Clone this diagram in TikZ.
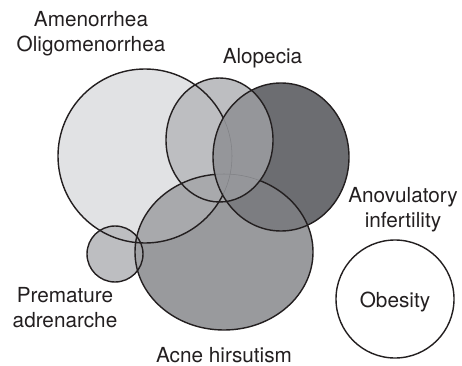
\documentclass[tikz,border=0pt]{standalone}
\usepackage{fontspec}
\setmainfont{TeX Gyre Heros}

\definecolor{edge}{HTML}{231F20}
\definecolor{cAmen}{HTML}{E1E2E4}
\definecolor{cAlo}{HTML}{BDBEC1}
\definecolor{cAcne}{HTML}{999A9D}
\definecolor{cAcneAmen}{HTML}{A8A9AC}
\definecolor{cPremAcne}{HTML}{A2A3A6}
\definecolor{cAnov}{HTML}{6C6D71}
\definecolor{cAcneAnov}{HTML}{7C7D81}
\definecolor{cLens}{HTML}{95969A}
\definecolor{hair}{HTML}{808185}

% circle paths (pixel units)
\newcommand\pAmen{(145,209) circle [radius=87]}
\newcommand\pAlo{(219.5,225) ellipse [x radius=53.5, y radius=62]}
\newcommand\pAnov{(281,208) ellipse [x radius=68, y radius=74]}
\newcommand\pAcne{(224,113) ellipse [x radius=89, y radius=78]}
\newcommand\pPrem{(115,111) circle [radius=28]}
\newcommand\pObes{(395,66) circle [radius=59]}

\tikzset{
  ring/.style={draw=edge, line width=0.8pt},
  hairline/.style={draw=hair, line width=0.3pt},
  lbl/.style={align=center, text=edge, inner sep=0pt,
    font=\fontsize{11.8}{14.3}\selectfont}
}

\begin{document}
\begin{tikzpicture}[x=0.02cm, y=0.02cm]
  \useasboundingbox (0,0) rectangle (462,365);

  % base fills
  \fill[cAmen] \pAmen;
  \fill[cAlo] \pAlo;
  \fill[cAlo] \pPrem;
  \fill[cAcne] \pAcne;
  \begin{scope}
    \clip \pAcne;
    \fill[cAcneAmen] \pAmen;
    \fill[cAcneAmen] \pAlo;
    \fill[cPremAcne] \pPrem;
  \end{scope}
  \fill[cAnov] \pAnov;
  \begin{scope}
    \clip \pAnov;
    \fill[cAcneAnov] \pAcne;
  \end{scope}

  % outlines
  \draw[ring] \pAmen;
  \draw[ring] \pPrem;
  \draw[ring] \pAcne;

  % alopecia / anovulatory lens
  \begin{scope}
    \clip \pAlo;
    \clip \pAnov;
    \fill[cLens] \pAlo;
    \draw[hairline] \pAmen;
    \draw[hairline] \pAcne;
  \end{scope}
  \draw[ring] \pAlo;
  \draw[ring] \pAnov;
  \draw[ring, fill=white] \pObes;

  % labels
  \node[lbl] (amen) at (91,331) {Amenorrhea\\Oligomenorrhea};
  \node[lbl] (alo) at (262.5,307) {Alopecia};
  \node[lbl] (anov) at (403,155) {Anovulatory\\infertility};
  \node[lbl] (obes) at (395,62.5) {Obesity};
  \node[lbl] (prem) at (65,57) {Premature\\adrenarche};
  \node[lbl] (acne) at (224,10) {Acne hirsutism};
\end{tikzpicture}
\end{document}
